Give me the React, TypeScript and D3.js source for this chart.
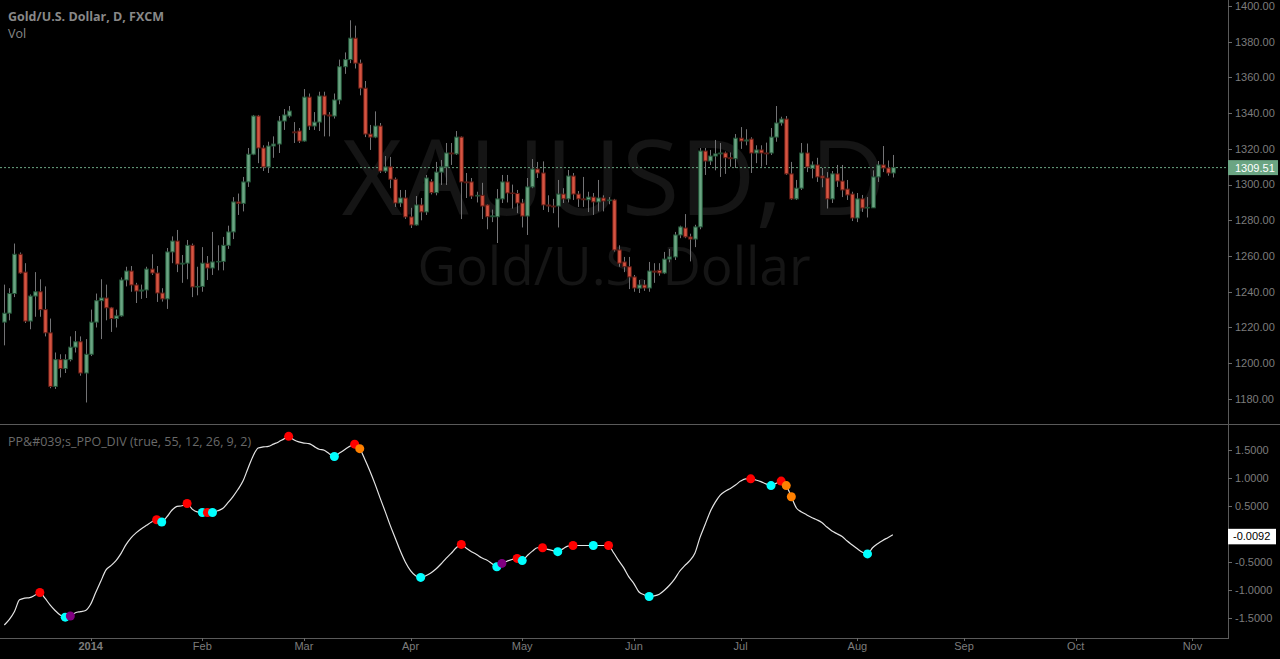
import React from 'react';
import * as d3 from 'd3';

// daily OHLC, Gold/U.S. Dollar (FXCM), first bar = 6 Dec 2013
const opens = [
  1223, 1228, 1239, 1261, 1251, 1223.6, 1237.6, 1240, 1230, 1217,
  1187, 1202, 1197, 1202, 1209, 1212, 1194.5, 1205, 1223, 1235,
  1236.5, 1231, 1225, 1226.5, 1246.6, 1251.6, 1243.8, 1240.4, 1241, 1252.7,
  1250.5, 1239.3, 1236, 1262.3, 1268.4, 1255.5, 1256, 1266, 1242.7, 1243,
  1256, 1253.3, 1256.7, 1257, 1266, 1273.5, 1290.3, 1289.5, 1301.5, 1317,
  1338.4, 1320.5, 1309.9, 1321.6, 1322.7, 1335.6, 1338.4, 1329.5, 1330, 1324.4,
  1349, 1332.8, 1335, 1349.6, 1339, 1338.4, 1347.4, 1366, 1370, 1382,
  1368, 1354, 1328.3, 1326.6, 1332.8, 1307.6, 1309.9, 1303, 1289.7, 1292.5,
  1281.9, 1277.4, 1288.6, 1284.7, 1301.6, 1295.5, 1307, 1309.9, 1317.7, 1317.2,
  1326.6, 1301.5, 1301.5, 1293.6, 1294, 1288.6, 1282, 1282, 1292, 1301.5,
  1295.3, 1295, 1289.7, 1282.4, 1298.7, 1308.7, 1306.5, 1288.6, 1288, 1288,
  1294.7, 1292, 1304.8, 1294.7, 1292, 1291.5, 1293, 1290.3, 1292.5, 1291,
  1291.4, 1263.4, 1256.7, 1254, 1248.3, 1242, 1243.8, 1242.1, 1251.6, 1252,
  1250.5, 1258.3, 1259.5, 1271.8, 1275.7, 1270.7, 1269.5, 1276.3, 1318.8, 1313.2,
  1316, 1317.2, 1317.7, 1315, 1314.5, 1326, 1324.4, 1325.5, 1317.7, 1319.4,
  1317.7, 1317.7, 1326.6, 1334.5, 1336.7, 1306, 1292, 1298, 1317.7, 1309,
  1311, 1304.8, 1303.7, 1292, 1306, 1302, 1297.5, 1294.7, 1281.3, 1292,
  1286.9, 1287, 1304.3, 1311, 1309.3, 1306.5
];
const highs = [
  1244, 1242, 1267, 1262, 1256, 1238.5, 1251, 1247, 1243, 1225,
  1206, 1205, 1205, 1215, 1218, 1215, 1213.5, 1230, 1239, 1247,
  1244, 1231.5, 1230, 1248, 1254, 1254.4, 1245, 1244, 1254, 1261,
  1254.4, 1242, 1264.5, 1271, 1274.6, 1260.6, 1269, 1267, 1254, 1265,
  1260, 1273.5, 1266, 1270.7, 1277, 1293, 1295, 1304.3, 1320.5, 1339,
  1339, 1322, 1324, 1327, 1338.4, 1342.3, 1344, 1335, 1331.7, 1353.5,
  1351, 1340.6, 1352, 1352, 1340.6, 1351, 1370, 1374, 1392, 1389,
  1370, 1358, 1333.4, 1341, 1334.5, 1316, 1315.5, 1304, 1297, 1297,
  1287, 1293.6, 1292.5, 1305.4, 1303, 1312.7, 1313.8, 1323.3, 1323.3, 1330,
  1327, 1306.5, 1303.7, 1296, 1301, 1289, 1286, 1297.5, 1305.4, 1305.4,
  1300, 1297, 1292, 1303.7, 1314.3, 1312.7, 1313, 1294, 1292, 1302.6,
  1298, 1308.2, 1306.5, 1296.4, 1304.3, 1296, 1295.3, 1302.6, 1294, 1293,
  1292, 1266, 1259.5, 1259.5, 1249.4, 1246.6, 1246.6, 1256.7, 1256, 1256,
  1262.3, 1264, 1273.5, 1277, 1283.5, 1272.5, 1277.5, 1320.5, 1320.5, 1319.4,
  1325, 1323.3, 1318.5, 1318, 1328.3, 1332.2, 1331, 1326.5, 1322, 1322,
  1323.5, 1331.7, 1344, 1338, 1338.4, 1312.7, 1302.6, 1323.3, 1323, 1313,
  1315, 1309.3, 1307, 1307.6, 1311, 1311, 1302.6, 1296, 1295.3, 1294.2,
  1293, 1308, 1313.2, 1321.6, 1313.5, 1316.6
];
const lows = [
  1210, 1224, 1237, 1250, 1222.5, 1219, 1226, 1226, 1215, 1186,
  1185.6, 1192, 1194.5, 1201, 1206, 1193, 1178, 1204, 1220, 1213.5,
  1224, 1217.5, 1220, 1226, 1243, 1240, 1233.7, 1236, 1236.5, 1249.4,
  1234.3, 1234.5, 1230.4, 1256, 1251, 1245, 1247, 1237, 1238, 1240,
  1246.6, 1249.4, 1252, 1252, 1264, 1269.5, 1283, 1285, 1298.7, 1316.5,
  1312, 1307.6, 1306.5, 1315, 1317.7, 1330.6, 1337.5, 1323.3, 1323.3, 1324,
  1330.6, 1330.6, 1330, 1327, 1327, 1337, 1345, 1362, 1368, 1365,
  1350, 1326.6, 1319.4, 1326, 1306.5, 1306.5, 1298, 1287.5, 1287.5, 1280.8,
  1275.7, 1277, 1280, 1283, 1294.5, 1294, 1299.8, 1299.8, 1311, 1316.6,
  1280.7, 1292.5, 1292, 1290, 1280.7, 1275, 1279, 1267.3, 1289.7, 1290,
  1286.6, 1284, 1276, 1271.8, 1298, 1303.7, 1285.8, 1284.6, 1284, 1276,
  1289.7, 1290, 1291.4, 1287.5, 1287.5, 1284.6, 1283, 1285, 1285, 1289,
  1262.5, 1254, 1251, 1241.5, 1240, 1239.3, 1240.5, 1240, 1245, 1249,
  1249.9, 1256.5, 1257.8, 1270, 1270, 1257, 1265, 1275, 1305.4, 1311,
  1308, 1304.3, 1306, 1310, 1309.3, 1320, 1322, 1306.5, 1312, 1310,
  1311, 1316.6, 1324, 1333, 1305.4, 1291.4, 1291.4, 1297, 1307, 1303.5,
  1301.5, 1298.5, 1286.6, 1289.7, 1298.7, 1293, 1291.4, 1279.6, 1279, 1284.7,
  1281.6, 1286.9, 1301.5, 1307, 1305, 1304
];
const closes = [
  1228, 1239, 1261, 1250.5, 1223.6, 1237.6, 1240, 1230, 1217, 1187,
  1202, 1197, 1202, 1209, 1212, 1194.5, 1205, 1223, 1235, 1236.5,
  1231, 1225, 1226.5, 1246.6, 1251.6, 1243.8, 1240.4, 1241, 1252.7, 1250.5,
  1239.3, 1236, 1262.3, 1268.4, 1255.5, 1256, 1266, 1242.7, 1243, 1256,
  1253.3, 1256.7, 1257, 1266, 1273.5, 1290.3, 1289.5, 1301.5, 1317, 1338.4,
  1320.5, 1309.9, 1321.6, 1322.7, 1335.6, 1339, 1341.2, 1329, 1324.4, 1349,
  1332.8, 1335, 1349.6, 1339, 1338.4, 1347.4, 1366, 1370, 1382, 1368,
  1354, 1328.3, 1326.6, 1332.8, 1307.6, 1309.9, 1303, 1289.7, 1292.5, 1281.9,
  1277.4, 1288.6, 1284.7, 1303.7, 1295.5, 1307, 1309.9, 1317.7, 1317.2, 1326.6,
  1301.5, 1301, 1293.6, 1294, 1288, 1282, 1282.5, 1292, 1301.5, 1295.3,
  1295, 1289.7, 1282.4, 1298.7, 1308.7, 1306.5, 1288.6, 1288, 1287.5, 1294.7,
  1292, 1304.8, 1294.7, 1292, 1291.5, 1293, 1290.3, 1292.5, 1290.8, 1291.4,
  1263.4, 1256, 1254, 1248.3, 1242.1, 1243.8, 1242.1, 1251.6, 1251, 1250.5,
  1258.3, 1259.5, 1271.8, 1276.3, 1270.7, 1269.5, 1276.3, 1318.8, 1313.2, 1316,
  1317.2, 1317.7, 1315, 1314.5, 1326, 1324.4, 1325, 1317.7, 1319.4, 1317.7,
  1317.2, 1326.6, 1334.5, 1336.7, 1306, 1292, 1298, 1317.7, 1309.9, 1311,
  1304.3, 1303.7, 1292, 1306, 1302, 1297, 1294.2, 1281.3, 1292, 1286.9,
  1287.3, 1304.3, 1311, 1309.3, 1306.5, 1309.51
];

// PPO divergence indicator, one value per bar
const ppo = [
  -1.62, -1.52, -1.38, -1.17, -1.14, -1.13, -1.09, -1.04, -1.14, -1.26,
  -1.36, -1.44, -1.48, -1.46, -1.40, -1.38, -1.36, -1.25, -1.04, -0.84,
  -0.64, -0.56, -0.47, -0.34, -0.18, -0.06, 0.03, 0.10, 0.16, 0.22,
  0.26, 0.22, 0.31, 0.43, 0.50, 0.51, 0.55, 0.45, 0.40, 0.39,
  0.39, 0.39, 0.42, 0.46, 0.56, 0.67, 0.80, 0.95, 1.18, 1.40,
  1.54, 1.56, 1.57, 1.61, 1.65, 1.70, 1.75, 1.69, 1.65, 1.63,
  1.62, 1.57, 1.52, 1.50, 1.44, 1.39, 1.45, 1.51, 1.57, 1.61,
  1.53, 1.34, 1.13, 0.90, 0.65, 0.41, 0.16, -0.07, -0.30, -0.50,
  -0.65, -0.74, -0.77, -0.74, -0.69, -0.62, -0.53, -0.43, -0.34, -0.24,
  -0.18, -0.25, -0.31, -0.36, -0.42, -0.46, -0.52, -0.58, -0.52, -0.48,
  -0.45, -0.43, -0.47, -0.38, -0.30, -0.24, -0.24, -0.27, -0.29, -0.31,
  -0.26, -0.21, -0.20, -0.20, -0.20, -0.20, -0.20, -0.20, -0.20, -0.20,
  -0.33, -0.47, -0.60, -0.76, -0.88, -1.03, -1.08, -1.11, -1.10, -1.07,
  -1.00, -0.91, -0.80, -0.66, -0.56, -0.47, -0.34, -0.06, 0.17, 0.40,
  0.57, 0.70, 0.77, 0.82, 0.88, 0.95, 0.99, 0.99, 0.97, 0.94,
  0.90, 0.87, 0.91, 0.95, 0.87, 0.67, 0.47, 0.40, 0.35, 0.30,
  0.26, 0.21, 0.13, 0.06, 0.01, -0.04, -0.12, -0.19, -0.26, -0.32,
  -0.35, -0.24, -0.17, -0.11, -0.06, -0.0092
];

// signal dots on the PPO line (bar index + colour)
const dotBars = [7, 12, 13, 30, 31, 36, 39, 40, 41, 56, 65, 69, 70, 82, 90, 97, 98, 101, 102, 106, 109, 112, 116, 119, 127, 147, 151, 153, 154, 155, 170];
const dotColors = ['#ff0000', '#00ffff', '#800080', '#ff0000', '#00ffff', '#ff0000', '#00ffff', '#ff0000', '#00ffff', '#ff0000', '#00ffff', '#ff0000', '#ff8000', '#00ffff', '#ff0000', '#00ffff', '#800080', '#ff0000', '#00ffff', '#ff0000', '#00ffff', '#ff0000', '#00ffff', '#ff0000', '#00ffff', '#ff0000', '#00ffff', '#ff0000', '#ff8000', '#ff8000', '#00ffff'];

const priceTicks = [1180, 1200, 1220, 1240, 1260, 1280, 1300, 1320, 1340, 1360, 1380, 1400];
const ppoTicks = [1.5, 1, 0.5, -0.5, -1, -1.5];
const lastPrice = 1309.51;
const lastPpo = -0.0092;

const FIRST_DAY = new Date(2013, 11, 6);
const HOLIDAYS = ['11-25', '0-1']; // month-day keys: Dec 25, Jan 1

// weekdays from the first bar, skipping the two market holidays
function tradingDays(count: number) {
  const out: Date[] = [];
  const d = new Date(FIRST_DAY);
  while (out.length < count) {
    const wd = d.getDay();
    const key = `${d.getMonth()}-${d.getDate()}`;
    if (wd !== 0 && wd !== 6 && !HOLIDAYS.includes(key)) out.push(new Date(d));
    d.setDate(d.getDate() + 1);
  }
  return out;
}

const AXIS_X = 1228;
const PANE_SPLIT = 424;
const PANE_BOTTOM = 638;
const axisFont = '"Liberation Sans", Arial, sans-serif';
const titleFont = '"Open Sans", "DejaVu Sans", sans-serif';

const App: React.FC = () => {
  const days = tradingDays(245);
  const x = d3.scaleLinear().domain([-0.85, 241]).range([0, AXIS_X]);
  const yP = d3.scaleLinear().domain([1165.96, 1403.36]).range([PANE_SPLIT, 0]);
  const yI = d3.scaleLinear().domain([-1.852, 1.97]).range([PANE_BOTTOM, PANE_SPLIT]);

  const monthTicks = days
    .map((d, i) => ({ d, i }))
    .filter(({ d, i }) => i > 0 && d.getMonth() !== days[i - 1].getMonth() && x(i) < AXIS_X);

  const ppoPath = d3.line<number>().x((_, i) => x(i)).y(d => yI(d)).curve(d3.curveMonotoneX)(ppo) || '';
  const bodyW = 3.6;

  return (
    <div style={{ position: 'fixed', left: 0, top: 0, width: 1280, height: 659, background: '#000' }}>
      <svg width={1280} height={659} style={{ display: 'block' }}>
        <rect width={1280} height={659} fill="#000" />
        {/* watermark */}
        <text x={614} y={215} textAnchor="middle" fontFamily={titleFont} fontSize={105} fill="#151515">XAUUSD, D</text>
        <text x={614} y={285} textAnchor="middle" fontFamily={titleFont} fontSize={53} fill="#151515">Gold/U.S. Dollar</text>

        {/* last price line */}
        <line x1={0} x2={AXIS_X} y1={yP(lastPrice)} y2={yP(lastPrice)} stroke="#6ba583" strokeDasharray="2,2" strokeWidth={1} />

        {/* candles */}
        <g>
          {opens.map((o, i) => {
            const c = closes[i];
            const up = c >= o;
            const cx = Math.round(x(i)) + 0.5;
            const top = yP(Math.max(o, c));
            const bot = yP(Math.min(o, c));
            return (
              <g key={i}>
                <line x1={cx} x2={cx} y1={yP(highs[i])} y2={yP(lows[i])} stroke="#737375" strokeWidth={1} />
                <rect x={cx - bodyW / 2} y={top} width={bodyW} height={Math.max(0.5, bot - top)}
                  fill={up ? '#6ba583' : '#d75442'} stroke={up ? '#225437' : '#5b1a13'} strokeWidth={1} />
              </g>
            );
          })}
        </g>

        {/* PPO pane */}
        <path d={ppoPath} fill="none" stroke="#e4e4e4" strokeWidth={1.2} />
        {dotBars.map((b, k) => (
          <circle key={k} cx={x(b)} cy={yI(ppo[b])} r={4.5} fill={dotColors[k]} />
        ))}

        {/* frame */}
        <line x1={0} x2={1280} y1={PANE_SPLIT + 0.5} y2={PANE_SPLIT + 0.5} stroke="#5a5a5a" />
        <line x1={0} x2={AXIS_X} y1={PANE_BOTTOM + 0.5} y2={PANE_BOTTOM + 0.5} stroke="#5a5a5a" />
        <line x1={AXIS_X + 0.5} x2={AXIS_X + 0.5} y1={0} y2={PANE_BOTTOM + 1} stroke="#5a5a5a" />

        {/* price axis */}
        {priceTicks.map(t => (
          <g key={t}>
            <line x1={AXIS_X} x2={AXIS_X + 4} y1={Math.round(yP(t)) + 0.5} y2={Math.round(yP(t)) + 0.5} stroke="#6a6a6a" />
            <text x={AXIS_X + 7} y={yP(t)} dy="0.35em" fontFamily={axisFont} fontSize={11} fill="#7c7c7c">{t.toFixed(2)}</text>
          </g>
        ))}
        <rect x={AXIS_X} y={yP(lastPrice) - 7.5} width={50} height={15} fill="#6ba583" />
        <text x={AXIS_X + 7} y={yP(lastPrice)} dy="0.36em" fontFamily={axisFont} fontSize={11} fill="#fff">{lastPrice.toFixed(2)}</text>

        {/* PPO axis */}
        {ppoTicks.map(t => (
          <g key={t}>
            <line x1={AXIS_X} x2={AXIS_X + 4} y1={Math.round(yI(t)) + 0.5} y2={Math.round(yI(t)) + 0.5} stroke="#6a6a6a" />
            <text x={AXIS_X + 7} y={yI(t)} dy="0.35em" fontFamily={axisFont} fontSize={11} fill="#7c7c7c">{t.toFixed(4)}</text>
          </g>
        ))}
        <line x1={AXIS_X} x2={AXIS_X + 4} y1={yI(lastPpo) + 1.5} y2={yI(lastPpo) + 1.5} stroke="#6a6a6a" />
        <rect x={AXIS_X} y={yI(lastPpo) - 6} width={48} height={15.5} fill="#ffffff" />
        <text x={AXIS_X + 5} y={yI(lastPpo) + 1.5} dy="0.36em" fontFamily={axisFont} fontSize={11} fill="#000">{lastPpo.toFixed(4)}</text>

        {/* time axis */}
        {monthTicks.map(({ d, i }) => (
          <g key={i}>
            <line x1={Math.round(x(i)) + 0.5} x2={Math.round(x(i)) + 0.5} y1={PANE_BOTTOM} y2={PANE_BOTTOM + 3} stroke="#6a6a6a" />
            <text x={x(i)} y={650} textAnchor="middle" fontFamily={axisFont} fontSize={11}
              fontWeight={d.getMonth() === 0 ? 'bold' : 'normal'} fill="#7c7c7c">
              {d.getMonth() === 0 ? d3.timeFormat('%Y')(d) : d3.timeFormat('%b')(d)}
            </text>
          </g>
        ))}

        {/* legends */}
        <text x={8} y={21} fontFamily={titleFont} fontSize={12.5} fontWeight="bold" fill="#888">Gold/U.S. Dollar, D, FXCM</text>
        <text x={8} y={38} fontFamily={titleFont} fontSize={12.5} fill="#888">Vol</text>
        <text x={8} y={446} fontFamily={titleFont} fontSize={12.5} fill="#6a6a6a">PP&amp;#039;s_PPO_DIV (true, 55, 12, 26, 9, 2)</text>
      </svg>
    </div>
  );
};

export default App;
